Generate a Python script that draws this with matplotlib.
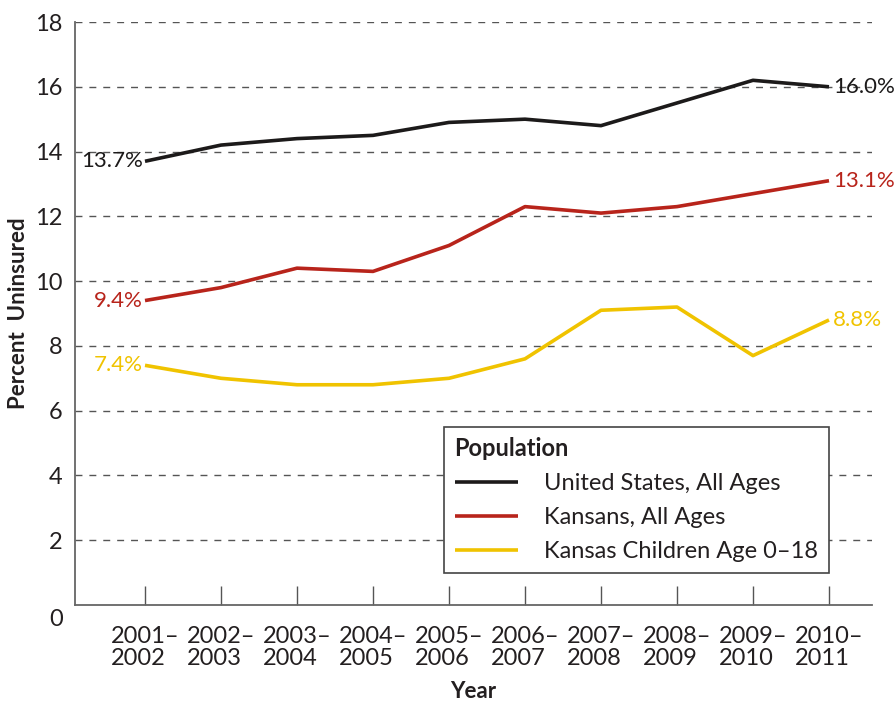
import numpy as np
import matplotlib
matplotlib.use("Agg")
from matplotlib import pyplot as plt
from matplotlib.transforms import ScaledTranslation

years = ["2001–\n2002", "2002–\n2003", "2003–\n2004", "2004–\n2005", "2005–\n2006",
         "2006–\n2007", "2007–\n2008", "2008–\n2009", "2009–\n2010", "2010–\n2011"]
us_all = [13.7, 14.2, 14.4, 14.5, 14.9, 15.0, 14.8, 15.5, 16.2, 16.0]
ks_all = [9.4, 9.8, 10.4, 10.3, 11.1, 12.3, 12.1, 12.3, 12.7, 13.1]
ks_kids = [7.4, 7.0, 6.8, 6.8, 7.0, 7.6, 9.1, 9.2, 7.7, 8.8]
names = ["United States, All Ages", "Kansans, All Ages", "Kansas Children Age 0–18"]
colors = ["#1c1a1a", "#b8241b", "#f0c300"]

plt.rcParams['font.family'] = ['Lato', 'DejaVu Sans']
txt = "#231f20"

fig = plt.figure(figsize=(8.94, 7.03), dpi=100)
ax = fig.add_axes([0.0839, 0.1394, 0.8915, 0.8293])

x = np.arange(len(years))
series = [us_all, ks_all, ks_kids]
for vals, name, c in zip(series, names, colors):
    ax.plot(x, vals, color=c, lw=2.6, label=name, solid_capstyle='butt', zorder=3)
    ax.text(x[0] - 0.03, vals[0], "%.1f%%" % vals[0], color=c, fontsize=16,
            ha='right', va='center')
    ax.text(x[-1] + 0.05, vals[-1], "%.1f%%" % vals[-1], color=c, fontsize=16,
            ha='left', va='center')

ax.set_xlim(-0.921, 9.566)
ax.set_ylim(0, 18)
ax.set_yticks(range(0, 19, 2))
ax.set_xticks(x)
ax.set_xticklabels(years, fontsize=17, color=txt, ha='center', multialignment='left',
                   linespacing=1.05)
ax.tick_params(axis='x', direction='in', length=14, width=1, color='#555555', pad=15)
ax.tick_params(axis='y', length=0, labelsize=17, labelcolor=txt, pad=9)

# the 0 label sits a bit below the axis line
zl = ax.get_yticklabels()[0]
zl.set_transform(zl.get_transform() + ScaledTranslation(0, -12 / 100, fig.dpi_scale_trans))

for s in ['top', 'right']:
    ax.spines[s].set_visible(False)
for s in ['left', 'bottom']:
    ax.spines[s].set_color('#666666')
    ax.spines[s].set_linewidth(1.3)

for yv in range(2, 19, 2):
    ax.axhline(yv, color='#555555', lw=1, dashes=(5, 5), zorder=1)

ax.set_ylabel("Percent  Uninsured", fontsize=16, fontweight='bold', color=txt)
ax.yaxis.set_label_coords(-0.058, 0.5)
ax.set_xlabel("Year", fontsize=16, fontweight='bold', color=txt, labelpad=9)

leg = ax.legend(loc='lower right', bbox_to_anchor=(0.946, 0.055), title="Population",
                fontsize=17, title_fontproperties={'weight': 'bold', 'size': 17},
                alignment='left', frameon=True, fancybox=False, edgecolor='#444444',
                framealpha=1, handlelength=2.7, handletextpad=1.1, labelspacing=0.55,
                borderpad=0.45, borderaxespad=0)
leg.get_frame().set_linewidth(1.2)
for t in leg.get_texts():
    t.set_color(txt)
leg.get_title().set_color(txt)

fig.savefig("out.png", dpi=100)
